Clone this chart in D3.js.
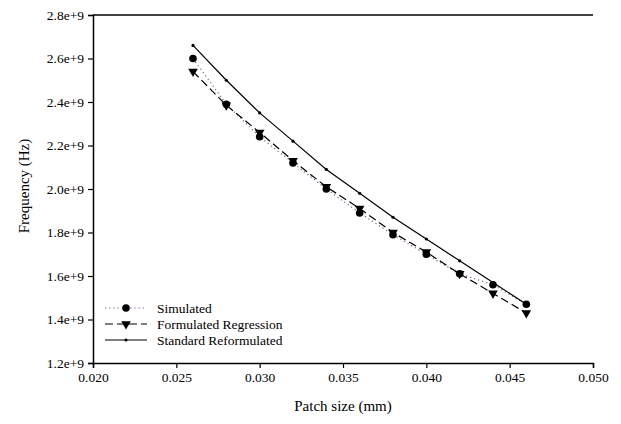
<!DOCTYPE html>
<html><head><meta charset="utf-8">
<script src="https://cdn.jsdelivr.net/npm/d3@7"></script>
<style>body{margin:0;background:#fff}svg{display:block}text{font-family:"Liberation Serif","Times New Roman",serif;fill:#000}</style>
</head><body>
<svg id="c" width="621" height="424"></svg>
<script>
const patchSize = [0.026,0.028,0.030,0.032,0.034,0.036,0.038,0.040,0.042,0.044,0.046];
const simulated = [2.60e9,2.39e9,2.24e9,2.12e9,2.00e9,1.89e9,1.79e9,1.70e9,1.61e9,1.56e9,1.47e9];
const formulated = [2.54e9,2.385e9,2.26e9,2.13e9,2.01e9,1.91e9,1.80e9,1.71e9,1.61e9,1.52e9,1.43e9];
const standard = [2.66e9,2.50e9,2.35e9,2.22e9,2.09e9,1.98e9,1.87e9,1.77e9,1.67e9,1.57e9,1.47e9];
const xTicks = [0.020,0.025,0.030,0.035,0.040,0.045,0.050];
const yTicks = [1.2e9,1.4e9,1.6e9,1.8e9,2.0e9,2.2e9,2.4e9,2.6e9,2.8e9];
const seriesNames = ["Simulated","Formulated Regression","Standard Reformulated"];

const svg = d3.select("#c");
const L=93, R=593, T=15, B=363;
const x = d3.scaleLinear().domain([0.020,0.050]).range([L,R]);
const y = d3.scaleLinear().domain([1.2e9,2.8e9]).range([B,T]);

const fmtY = d => (d/1e9).toFixed(1)+"e+9";
const xAxis = svg.append("g").attr("transform",`translate(0,${B})`)
  .call(d3.axisBottom(x).tickValues(xTicks).tickFormat(d3.format(".3f")).tickSizeOuter(0).tickSize(5).tickPadding(4));
const yAxis = svg.append("g").attr("transform",`translate(${L},0)`)
  .call(d3.axisLeft(y).tickValues(yTicks).tickFormat(fmtY).tickSizeOuter(0).tickSize(5).tickPadding(4));
[xAxis,yAxis].forEach(g=>{
  g.selectAll("text").style("font-size","13.5px").style("font-family","Liberation Serif");
  g.select(".domain").attr("stroke","#000").attr("stroke-width",1.5);
  g.selectAll(".tick line").attr("stroke","#000").attr("stroke-width",1.2);
});
svg.append("line").attr("x1",L).attr("x2",R).attr("y1",T).attr("y2",T).attr("stroke","#000").attr("stroke-width",1.5);

svg.append("text").attr("x",(L+R)/2).attr("y",411).attr("text-anchor","middle").style("font-size","15px").text("Patch size (mm)");
svg.append("text").attr("transform",`translate(29,186) rotate(-90)`).attr("text-anchor","middle").style("font-size","15px").text("Frequency (Hz)");

const line = d3.line().x(d=>x(d[0])).y(d=>y(d[1]));
const zip = arr => patchSize.map((p,i)=>[p,arr[i]]);
const styles = [
  {data:simulated, stroke:"#8a5a9a", dash:"1.2,3", width:1.2},
  {data:formulated, stroke:"#000", dash:"8,4", width:1.2},
  {data:standard, stroke:"#000", dash:null, width:1.2}
];
styles.forEach(s=>{
  svg.append("path").datum(zip(s.data)).attr("d",line).attr("fill","none")
    .attr("stroke",s.stroke).attr("stroke-width",s.width).attr("stroke-dasharray",s.dash);
});
const tri = d3.symbol().type(d3.symbolTriangle).size(40);
function marker(g, k, cx, cy){
  if(k===0) g.append("circle").attr("cx",cx).attr("cy",cy).attr("r",3.8).attr("fill","#000");
  else if(k===1) g.append("path").attr("d",tri()).attr("transform",`translate(${cx},${cy}) rotate(180)`).attr("fill","#000");
  else g.append("circle").attr("cx",cx).attr("cy",cy).attr("r",1.6).attr("fill","#000");
}
const mg = svg.append("g");
styles.forEach((s,k)=>{ zip(s.data).forEach(d=>marker(mg,k,x(d[0]),y(d[1]))); });

// legend
const legY = [308, 324, 340];
seriesNames.forEach((n,k)=>{
  const s = styles[k];
  svg.append("line").attr("x1",105).attr("x2",147).attr("y1",legY[k]).attr("y2",legY[k])
    .attr("stroke",s.stroke).attr("stroke-width",s.width).attr("stroke-dasharray",s.dash);
  marker(svg,k,126,legY[k]);
  svg.append("text").attr("x",157).attr("y",legY[k]+4.5).style("font-size","13.5px").text(n);
});
</script>
</body></html>
